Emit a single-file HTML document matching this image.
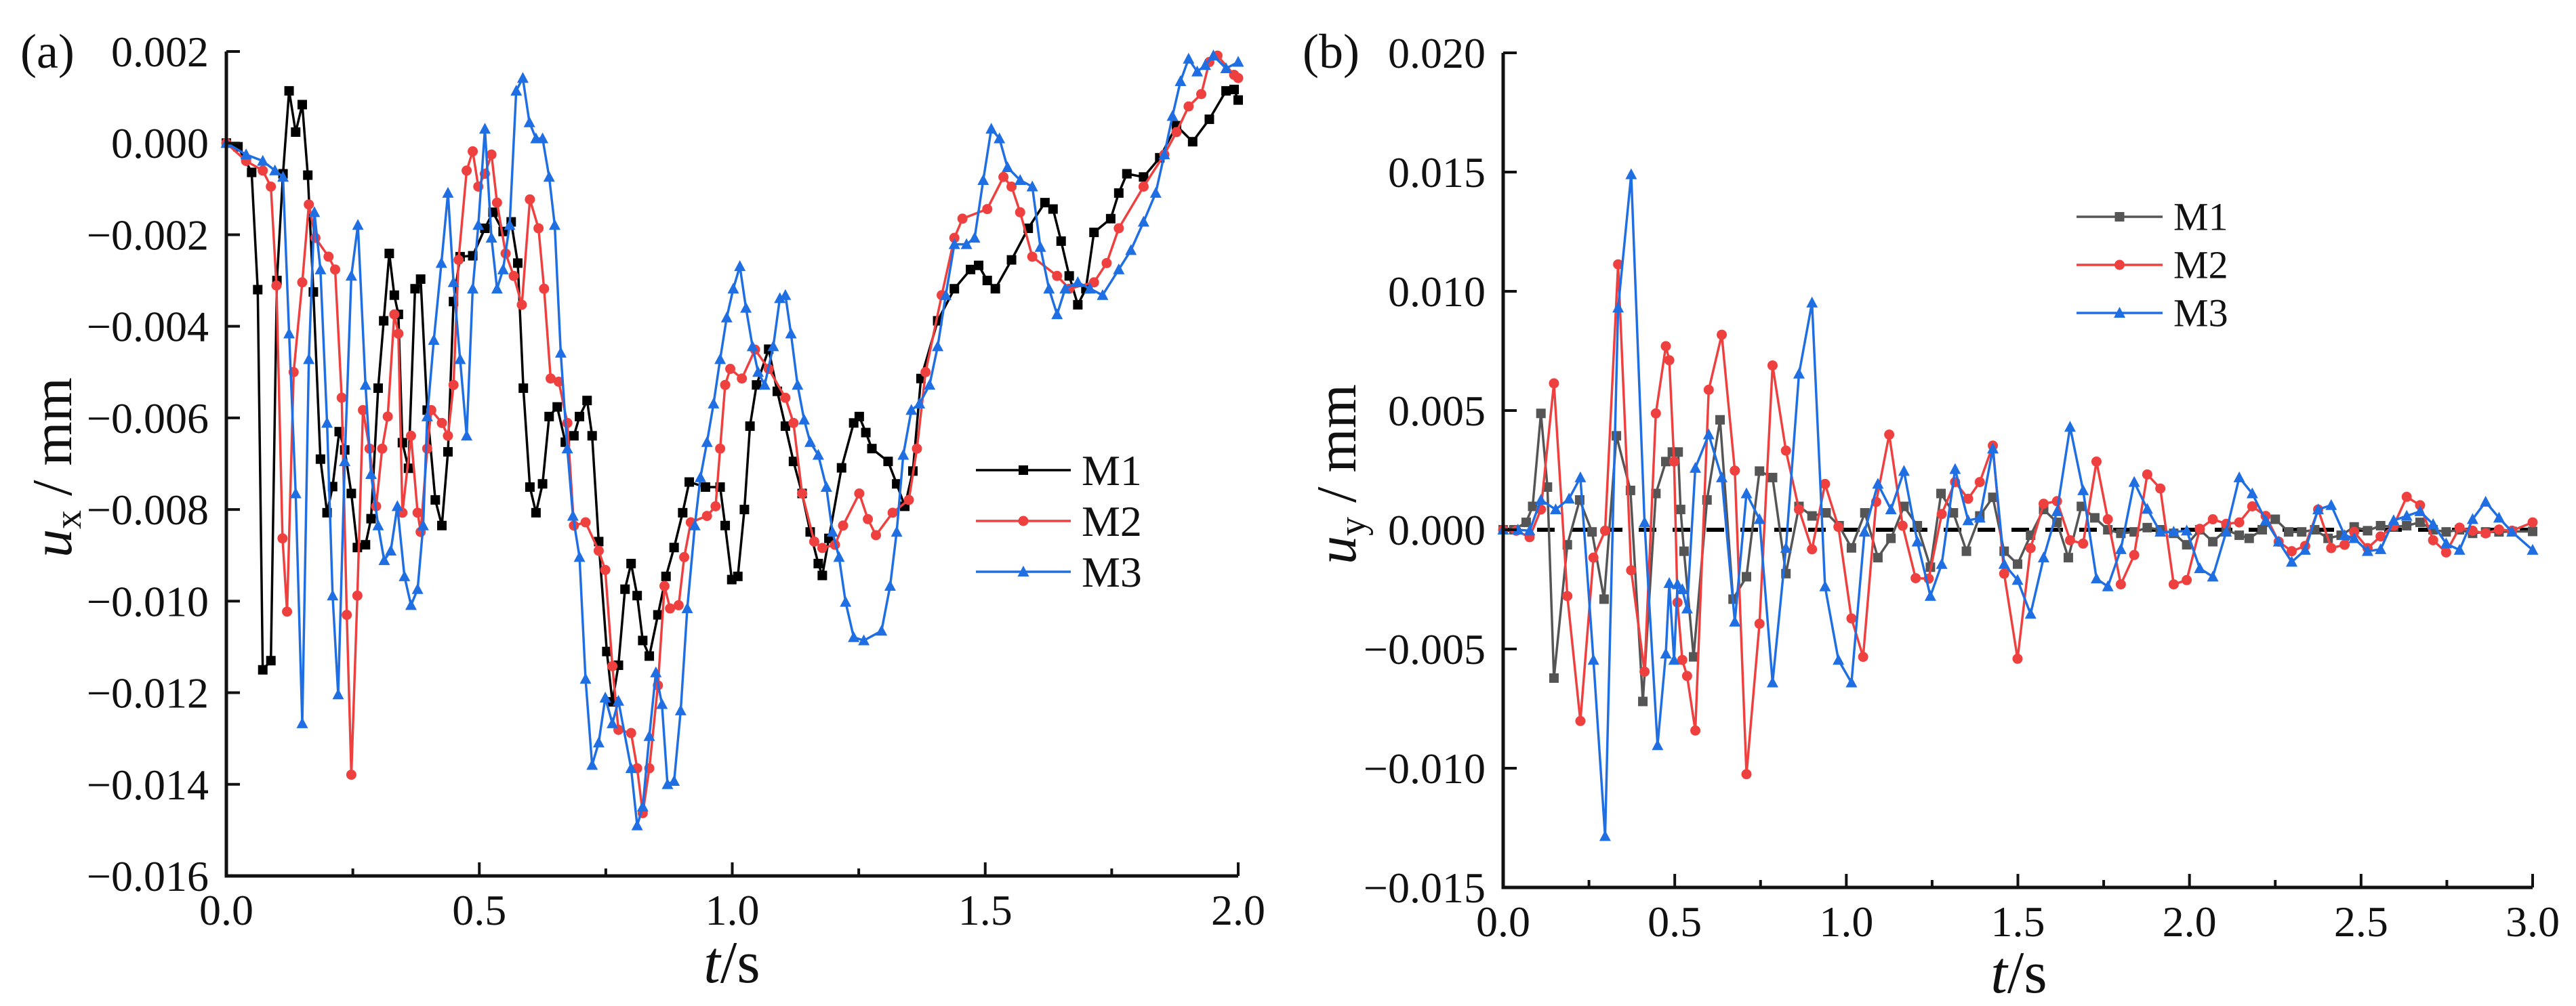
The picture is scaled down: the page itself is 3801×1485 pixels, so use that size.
<!DOCTYPE html>
<html><head><meta charset="utf-8">
<style>
html,body{margin:0;padding:0;background:#fff;}
svg, svg text{font-family:"Liberation Serif","DejaVu Serif",serif;}
</style></head>
<body>
<svg id="fig" width="3801" height="1480" viewBox="0 0 3801 1480" xmlns="http://www.w3.org/2000/svg" font-family="Liberation Serif, DejaVu Serif, serif"></svg>
<script>
// ---------- Panel (a) data (values in units of 0.001 mm) ----------
const aM1t=[0,.023,.05,.062,.072,.088,.10,.112,.124,.137,.15,.161,.172,.186,.199,.21,.223,.234,.247,.259,.275,.286,.30,.311,.322,.332,.34,.348,.36,.373,.384,.397,.413,.426,.438,.449,.462,.487,.511,.527,.547,.563,.576,.587,.60,.612,.625,.638,.654,.67,.687,.698,.713,.723,.736,.752,.763,.775,.788,.80,.812,.823,.836,.853,.869,.885,.902,.915,.947,.976,.986,.999,1.011,1.024,1.035,1.048,1.072,1.089,1.105,1.121,1.138,1.154,1.17,1.178,1.191,1.216,1.24,1.251,1.264,1.276,1.308,1.325,1.341,1.357,1.373,1.406,1.439,1.471,1.487,1.504,1.52,1.552,1.585,1.618,1.634,1.65,1.666,1.683,1.699,1.715,1.748,1.764,1.78,1.813,1.845,1.878,1.91,1.943,1.976,1.992,2.0];
const aM1v=[0,-0.08,-0.64,-3.2,-11.5,-11.3,-3.0,-0.67,1.14,0.24,0.84,-0.7,-3.25,-6.9,-8.07,-7.5,-6.3,-6.7,-7.65,-8.83,-8.77,-8.2,-5.35,-3.88,-2.41,-3.32,-3.74,-6.54,-7.1,-3.18,-2.97,-5.83,-7.79,-8.35,-6.74,-3.46,-2.48,-2.46,-1.86,-1.51,-1.93,-1.72,-2.62,-5.35,-7.51,-8.07,-7.44,-5.97,-5.76,-6.53,-6.39,-5.97,-5.62,-6.39,-8.7,-11.1,-12.2,-11.4,-9.74,-9.18,-9.88,-10.86,-11.2,-10.3,-9.46,-8.83,-8.07,-7.4,-7.51,-7.51,-8.35,-9.53,-9.46,-8.0,-6.18,-5.28,-4.5,-5.42,-6.18,-6.95,-7.65,-8.49,-9.18,-9.44,-8.63,-7.09,-6.11,-5.97,-6.32,-6.67,-6.95,-7.44,-7.93,-7.16,-5.14,-3.88,-3.18,-2.76,-2.67,-3.0,-3.18,-2.55,-1.86,-1.3,-1.44,-2.14,-2.9,-3.53,-3.18,-1.95,-1.65,-1.09,-0.67,-0.74,-0.32,0.38,0.03,0.52,1.14,1.17,0.94];
const aM2t=[0,.039,.072,.088,.099,.111,.12,.133,.15,.163,.176,.202,.215,.228,.238,.247,.259,.27,.283,.296,.308,.319,.332,.34,.348,.365,.378,.384,.397,.405,.426,.438,.449,.459,.475,.487,.498,.511,.524,.535,.552,.568,.584,.60,.617,.628,.641,.657,.674,.687,.71,.736,.749,.763,.775,.80,.812,.823,.836,.853,.866,.877,.894,.905,.918,.95,.967,.976,.986,.996,1.019,1.045,1.072,1.105,1.121,1.138,1.162,1.178,1.203,1.219,1.251,1.268,1.284,1.317,1.349,1.365,1.382,1.414,1.439,1.455,1.504,1.536,1.552,1.569,1.593,1.642,1.666,1.715,1.74,1.764,1.813,1.854,1.878,1.902,1.927,1.943,1.959,1.992,2.0];
const aM2v=[0,-0.39,-0.60,-0.95,-3.11,-8.63,-10.23,-5.0,-3.04,-1.34,-2.07,-2.48,-2.76,-5.56,-10.3,-13.79,-9.88,-5.83,-6.67,-7.93,-6.67,-5.97,-3.74,-4.16,-8.07,-6.39,-8.07,-8.49,-6.67,-5.83,-6.11,-6.39,-5.28,-2.55,-0.6,-0.18,-0.95,-0.67,-0.25,-1.3,-2.41,-2.9,-3.53,-1.23,-1.86,-3.18,-5.14,-5.21,-6.11,-8.35,-8.28,-8.9,-9.32,-11.42,-12.81,-12.88,-13.65,-14.63,-13.65,-11.84,-9.67,-10.16,-10.09,-9.04,-8.28,-8.14,-7.93,-6.67,-5.28,-4.93,-5.14,-4.51,-4.93,-5.56,-6.11,-7.65,-8.7,-8.84,-8.77,-8.35,-7.65,-8.21,-8.56,-8.07,-7.79,-6.67,-5.0,-3.32,-2.07,-1.65,-1.44,-0.74,-0.95,-1.51,-2.48,-2.9,-3.18,-3.04,-2.62,-1.86,-0.95,-0.25,0.24,0.8,1.07,1.77,1.91,1.49,1.42];
const aM3t=[0,.039,.072,.096,.112,.124,.137,.15,.163,.174,.186,.199,.21,.221,.234,.247,.26,.275,.286,.30,.312,.325,.338,.352,.365,.378,.389,.397,.41,.425,.438,.449,.462,.475,.487,.498,.511,.524,.535,.547,.56,.573,.586,.599,.612,.625,.638,.649,.661,.674,.685,.698,.71,.723,.736,.749,.763,.775,.80,.812,.823,.836,.849,.861,.872,.885,.898,.911,.926,.937,.95,.963,.976,.989,1.002,1.015,1.027,1.04,1.051,1.064,1.081,1.094,1.105,1.116,1.129,1.142,1.154,1.17,1.186,1.198,1.211,1.224,1.24,1.26,1.295,1.312,1.325,1.338,1.354,1.37,1.39,1.406,1.422,1.439,1.463,1.479,1.496,1.512,1.528,1.544,1.569,1.593,1.609,1.626,1.642,1.658,1.683,1.707,1.732,1.764,1.788,1.813,1.837,1.854,1.87,1.886,1.902,1.919,1.935,1.951,1.976,2.0];
const aM3v=[0,-0.25,-0.39,-0.6,-0.74,-4.16,-7.65,-12.67,-4.72,-1.51,-2.76,-6.11,-9.88,-12.04,-6.95,-2.9,-1.79,-5.28,-7.23,-8.35,-9.11,-8.9,-7.93,-9.46,-10.09,-9.74,-8.35,-5.97,-4.3,-2.62,-1.09,-3.04,-4.72,-6.39,-3.18,-1.79,0.31,-2.07,-3.18,-2.76,-1.79,1.14,1.42,0.45,0.1,0.1,-0.74,-1.79,-4.58,-6.67,-8.14,-9.04,-11.7,-13.58,-13.09,-12.11,-12.67,-12.18,-13.65,-14.9,-14.49,-12.95,-11.56,-12.25,-14.0,-13.93,-12.39,-10.16,-8.35,-7.3,-6.53,-5.69,-4.72,-3.81,-3.18,-2.69,-3.6,-4.44,-5.0,-5.28,-4.44,-3.39,-3.32,-4.16,-5.28,-6.04,-6.53,-6.81,-7.51,-8.49,-9.04,-10.02,-10.79,-10.86,-10.65,-9.67,-8.49,-6.81,-5.83,-5.69,-5.28,-4.44,-3.32,-2.21,-2.21,-2.07,-0.81,0.31,0.1,-0.53,-0.81,-0.95,-2.27,-3.18,-3.74,-3.18,-3.04,-3.18,-3.32,-2.76,-2.34,-1.72,-1.09,-0.25,0.59,1.35,1.84,1.56,1.7,1.91,1.63,1.77];
const aYTicks=[0.002,0.000,-0.002,-0.004,-0.006,-0.008,-0.010,-0.012,-0.014,-0.016];
const aYLabels=["0.002","0.000","\u22120.002","\u22120.004","\u22120.006","\u22120.008","\u22120.010","\u22120.012","\u22120.014","\u22120.016"];
const aXTicks=[0,0.5,1.0,1.5,2.0];
const aXLabels=["0.0","0.5","1.0","1.5","2.0"];

// ---------- Panel (b) data (values in units of 0.001 mm) ----------
const bM1t=[0,.031,.067,.086,.11,.129,.148,.187,.223,.259,.294,.33,.371,.407,.445,.474,.493,.51,.517,.527,.555,.594,.632,.67,.709,.747,.785,.824,.862,.90,.941,.979,1.015,1.054,1.092,1.13,1.168,1.207,1.245,1.276,1.312,1.35,1.389,1.427,1.46,1.499,1.537,1.575,1.614,1.647,1.685,1.724,1.762,1.80,1.839,1.877,1.915,1.954,1.992,2.03,2.068,2.107,2.145,2.174,2.212,2.25,2.289,2.327,2.365,2.404,2.442,2.48,2.519,2.557,2.595,2.633,2.672,2.71,2.748,2.787,2.825,2.863,2.902,2.94,3.0];
const bM1v=[0,0,0.31,0.98,4.88,1.79,-6.22,-0.63,1.25,-0.09,-2.91,3.94,1.65,-7.2,1.52,2.86,3.26,3.26,0.85,-0.9,-5.33,1.25,4.61,-2.91,-1.97,2.46,2.19,-1.84,0.98,0.58,0.71,0.17,-0.76,0.71,-1.17,-0.36,0.98,0.17,-1.57,1.52,0.71,-0.9,0.58,1.36,-0.9,-1.44,-0.23,0.85,0.31,-1.17,0.98,0.5,0,-0.15,-0.09,0.09,0,-0.15,-0.63,0,-0.5,0,-0.23,-0.36,0,0.44,-0.09,-0.09,0,-0.36,-0.23,0.12,-0.04,0.17,0.12,0.17,0.31,0,-0.09,0,-0.15,-0.09,-0.09,-0.07,-0.07];
const bM2t=[0,.038,.077,.11,.148,.187,.225,.263,.297,.335,.373,.412,.445,.474,.484,.498,.508,.522,.536,.56,.599,.637,.675,.709,.747,.785,.824,.862,.90,.938,.977,1.015,1.049,1.087,1.125,1.164,1.202,1.24,1.278,1.317,1.355,1.389,1.427,1.46,1.499,1.537,1.575,1.614,1.652,1.69,1.729,1.762,1.80,1.839,1.877,1.915,1.954,1.992,2.03,2.068,2.107,2.145,2.183,2.222,2.26,2.298,2.337,2.375,2.413,2.452,2.48,2.519,2.557,2.595,2.633,2.672,2.71,2.748,2.787,2.825,2.863,2.902,2.94,3.0];
const bM2v=[0,-0.04,-0.31,0.85,6.14,-2.78,-8.02,-1.17,-0.04,11.13,-1.7,-5.95,4.88,7.7,7.11,2.86,-3.05,-5.46,-6.13,-8.42,5.87,8.18,2.48,-10.25,-3.94,6.89,3.32,0.85,-0.82,1.92,0.12,-3.72,-5.33,1.17,3.99,0.17,-2.03,-2.05,0.66,2.0,1.3,2.0,3.53,-1.84,-5.41,-0.77,1.09,1.2,-0.44,-0.58,2.86,0.44,-2.29,-1.06,2.32,1.73,-2.29,-2.11,0.04,0.44,0.25,0.31,0.98,0.58,-0.5,-0.9,-0.68,0.85,-0.77,-0.63,-0.09,-0.77,-0.28,0.17,1.38,1.03,-0.44,-0.95,0.09,-0.04,-0.15,0.01,-0.04,0.31];
const bM3t=[0,.043,.077,.11,.153,.192,.225,.263,.297,.335,.373,.412,.45,.474,.484,.498,.508,.522,.536,.56,.599,.637,.675,.709,.747,.785,.824,.862,.90,.938,.977,1.015,1.053,1.092,1.13,1.168,1.207,1.245,1.278,1.317,1.355,1.389,1.427,1.46,1.499,1.537,1.575,1.614,1.652,1.69,1.729,1.762,1.80,1.839,1.877,1.915,1.954,1.992,2.03,2.068,2.107,2.145,2.183,2.222,2.26,2.298,2.337,2.375,2.413,2.452,2.48,2.519,2.557,2.595,2.633,2.672,2.71,2.748,2.787,2.825,2.863,2.902,2.94,3.0];
const bM3v=[0,0,-0.04,1.25,0.85,1.3,2.19,-5.46,-12.85,9.31,14.9,0.31,-9.04,-5.2,-2.24,-5.46,-2.29,-2.5,-3.31,2.59,3.99,2.19,-3.86,1.52,0.44,-6.41,-0.77,6.54,9.52,-2.38,-5.46,-6.41,-0.09,1.92,0.85,2.46,-0.5,-2.78,-1.44,2.54,0.39,0.5,3.4,-1.44,-2.11,-3.53,-1.17,0.77,4.31,1.65,-2.05,-2.38,-0.82,2.0,0.87,-0.09,-0.09,-0.04,-1.62,-1.97,-0.09,2.19,1.52,0.39,-0.5,-1.35,-0.85,0.85,1.03,-0.23,-0.36,-0.9,-0.82,0.39,0.58,0.77,0.23,-0.58,-0.85,0.44,1.17,0.5,-0.09,-0.85];
const bYTicks=[0.020,0.015,0.010,0.005,0.000,-0.005,-0.010,-0.015];
const bYLabels=["0.020","0.015","0.010","0.005","0.000","\u22120.005","\u22120.010","\u22120.015"];
const bXTicks=[0,0.5,1.0,1.5,2.0,2.5,3.0];
const bXLabels=["0.0","0.5","1.0","1.5","2.0","2.5","3.0"];

const NS="http://www.w3.org/2000/svg";
const FF="Liberation Serif, DejaVu Serif, serif";
const svg=document.getElementById('fig');
function mk(tag,attrs,parent){const e=document.createElementNS(NS,tag);for(const k in attrs)e.setAttribute(k,attrs[k]);(parent||svg).appendChild(e);return e;}

function panel(cfg){
  const g=mk('g',{});
  
  
  const X=t=>cfg.x0+(t-cfg.xmin)/(cfg.xmax-cfg.xmin)*(cfg.x1-cfg.x0);
  const Y=v=>cfg.y1+(v-cfg.ymin)/(cfg.ymax-cfg.ymin)*(cfg.y0-cfg.y1);
  if(cfg.zero){
    const z=mk('line',{x1:X(cfg.xmin),x2:X(cfg.xmax),y1:Y(0),y2:Y(0),stroke:'#000','stroke-width':6,'stroke-dasharray':'26 24'},g);
    
    
  }
  cfg.series.forEach(s=>{
    const sg=mk('g',{},g);
    
    
    const pts=s.t.map((t,i)=>X(t).toFixed(1)+','+Y(s.v[i]*0.001).toFixed(1)).join(' ');
    const pl=mk('polyline',{points:pts,fill:'none',stroke:s.color,'stroke-width':3.5,'stroke-linejoin':'round'},sg);
    
    
    s.t.forEach((t,i)=>{
      const m=marker(s.shape,X(t),Y(s.v[i]*0.001),s.color,sg);
      
      
    });
  });
  const ax=mk('path',{d:`M${cfg.x0},${cfg.y0} L${cfg.x0},${cfg.y1} L${cfg.x1},${cfg.y1}`,fill:'none',stroke:'#111','stroke-width':5},g);
  
  
  cfg.yticks.forEach((v,i)=>{
    const y=Y(v);
    mk('line',{x1:cfg.x0,x2:cfg.x0+20,y1:y,y2:y,stroke:'#111','stroke-width':4},g);
    const tx=mk('text',{x:cfg.x0-26,y:y+22,'text-anchor':'end','font-size':64,fill:'#111','font-family':FF},g);
    tx.textContent=cfg.ylabels[i];
    
    
  });
  cfg.xticks.forEach((t,i)=>{
    const x=X(t);
    mk('line',{x1:x,x2:x,y1:cfg.y1,y2:cfg.y1-20,stroke:'#111','stroke-width':4},g);
    if(i<cfg.xticks.length-1){const xm=X(t+0.25);mk('line',{x1:xm,x2:xm,y1:cfg.y1,y2:cfg.y1-11,stroke:'#111','stroke-width':4},g);}
    const tx=mk('text',{x:x,y:cfg.y1+72,'text-anchor':'middle','font-size':64,fill:'#111','font-family':FF},g);
    tx.textContent=cfg.xlabels[i];
    
    
  });
  const lg=mk('g',{},g);
  
  
  cfg.series.forEach((s,i)=>{
    const y=cfg.leg.y+i*cfg.leg.dy;
    const e=mk('g',{},lg);
    
    
    mk('line',{x1:cfg.leg.x,x2:cfg.leg.x+cfg.leg.w,y1:y,y2:y,stroke:s.color,'stroke-width':3.5},e);
    marker(s.shape,cfg.leg.x+cfg.leg.w/2,y,s.color,e);
    const tx=mk('text',{x:cfg.leg.x+cfg.leg.w+16,y:y+cfg.leg.fs*0.34,'font-size':cfg.leg.fs,fill:'#111','font-family':FF},e);
    tx.textContent=s.label;
  });
  return g;
}
function marker(shape,x,y,c,parent){
  if(shape==='sq') return mk('rect',{x:x-7,y:y-7,width:14,height:14,fill:c},parent);
  if(shape==='ci') return mk('circle',{cx:x,cy:y,r:7.5,fill:c},parent);
  return mk('polygon',{points:`${x},${y-9} ${x-8.5},${y+7} ${x+8.5},${y+7}`,fill:c},parent);
}
const RED='#ef4040', BLUE='#1f6fe3';
panel({name:'panel-a-ux-chart',x0:334,x1:1827,y0:76,y1:1293,xmin:0,xmax:2,ymin:-0.016,ymax:0.002,
  yticks:aYTicks,ylabels:aYLabels,xticks:aXTicks,xlabels:aXLabels,zero:false,
  series:[{label:'M1',t:aM1t,v:aM1v,color:'#000',shape:'sq'},{label:'M2',t:aM2t,v:aM2v,color:RED,shape:'ci'},{label:'M3',t:aM3t,v:aM3v,color:BLUE,shape:'tr'}],
  leg:{x:1440,w:140,y:694,dy:75,fs:64}});
panel({name:'panel-b-uy-chart',x0:2218,x1:3737,y0:78,y1:1310,xmin:0,xmax:3,ymin:-0.015,ymax:0.020,
  yticks:bYTicks,ylabels:bYLabels,xticks:bXTicks,xlabels:bXLabels,zero:true,
  series:[{label:'M1',t:bM1t,v:bM1v,color:'#555',shape:'sq'},{label:'M2',t:bM2t,v:bM2v,color:RED,shape:'ci'},{label:'M3',t:bM3t,v:bM3v,color:BLUE,shape:'tr'}],
  leg:{x:3064,w:127,y:320,dy:71,fs:58}});
</script>
<svg style="position:absolute;left:0;top:0" width="3801" height="1480" font-family="Liberation Serif, DejaVu Serif, serif">
  <text x="30" y="100" font-size="72" fill="#111">(a)</text>
  <text x="1922" y="100" font-size="72" fill="#111">(b)</text>
  <text transform="translate(105,690) rotate(-90)" text-anchor="middle" font-size="84" fill="#111"><tspan font-style="italic">u</tspan><tspan font-size="56" dy="14">x</tspan><tspan dy="-14"> / mm</tspan></text>
  <text x="1080" y="1450" text-anchor="middle" font-size="88" fill="#111"><tspan font-style="italic">t</tspan>/s</text>
  <text transform="translate(2000,700) rotate(-90)" text-anchor="middle" font-size="84" fill="#111"><tspan font-style="italic">u</tspan><tspan font-size="56" dy="14">y</tspan><tspan dy="-14"> / mm</tspan></text>
  <text x="2979" y="1465" text-anchor="middle" font-size="88" fill="#111"><tspan font-style="italic">t</tspan>/s</text>
</svg>
</body></html>
